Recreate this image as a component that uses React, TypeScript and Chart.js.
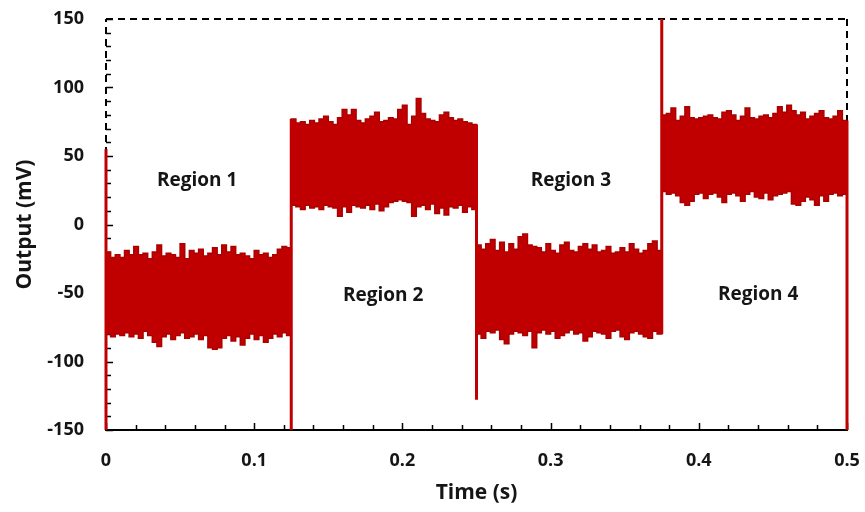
import React, { useEffect, useRef } from 'react';
import { Chart, registerables } from 'chart.js';

Chart.register(...registerables);

// ---- data ----
const REGION_BOUNDS = [0, 0.125, 0.25, 0.375, 0.5];
const X_TICK_STEP = 0.1;
const Y_TICK_STEP = 50;
const X_MIN = 0;
const X_MAX = 0.5;
const Y_MIN = -150;
const Y_MAX = 150;

// Upper / lower envelopes of the noisy trace, 40 samples per region
const R1_TOP = [-20, -24, -22, -24, -19, -22, -16, -22, -21, -25, -20, -15, -23, -21, -22, -24, -14, -25, -19, -21, -18, -23, -21, -17, -22, -15, -20, -16, -22, -21, -23, -25, -19, -22, -21, -24, -22, -18, -16, -17];
const R1_BOT = [-80, -82, -80, -81, -79, -82, -80, -83, -78, -81, -86, -89, -82, -80, -84, -81, -79, -83, -82, -80, -84, -81, -90, -91, -90, -83, -81, -85, -82, -88, -83, -80, -84, -81, -86, -83, -80, -82, -79, -81];
const R2_TOP = [77, 74, 75, 73, 76, 74, 77, 79, 75, 73, 78, 84, 80, 84, 76, 74, 77, 79, 82, 75, 76, 78, 77, 84, 87, 73, 79, 92, 81, 77, 76, 75, 80, 82, 78, 76, 77, 75, 74, 73];
const R2_BOT = [14, 13, 11, 14, 12, 13, 11, 14, 13, 12, 6, 13, 9, 14, 13, 12, 14, 11, 15, 10, 13, 16, 17, 18, 17, 16, 6, 13, 14, 11, 15, 8, 12, 7, 13, 12, 14, 9, 13, 11];
const R3_TOP = [-15, -18, -14, -11, -19, -13, -20, -14, -18, -9, -7, -15, -16, -17, -20, -14, -19, -21, -15, -13, -19, -20, -16, -14, -18, -15, -20, -19, -16, -21, -20, -17, -20, -14, -18, -21, -19, -14, -12, -19];
const R3_BOT = [-80, -83, -78, -79, -77, -84, -87, -80, -78, -79, -81, -78, -90, -79, -77, -80, -78, -83, -81, -79, -77, -80, -79, -85, -82, -78, -79, -80, -83, -78, -77, -82, -84, -79, -78, -80, -82, -83, -78, -80];
const R4_TOP = [80, 81, 85, 76, 79, 86, 78, 77, 78, 79, 80, 78, 77, 82, 83, 80, 76, 79, 85, 78, 77, 79, 80, 78, 81, 86, 82, 87, 83, 80, 82, 77, 79, 81, 83, 78, 77, 79, 83, 76];
const R4_BOT = [24, 22, 23, 21, 16, 14, 17, 22, 23, 19, 22, 23, 20, 16, 22, 23, 21, 17, 22, 24, 20, 19, 23, 18, 21, 22, 23, 24, 15, 14, 17, 20, 18, 14, 21, 17, 22, 23, 21, 22];

// Transient spikes at the switching instants: [time, from, to]
const SPIKE_TIMES = [0, 0.125, 0.25, 0.375, 0.5];
const SPIKE_FROM = [55, -150, 73, -80, 76];
const SPIKE_TO = [-150, 77, -128, 150, -150];

const REGION_LABELS = ['Region 1', 'Region 2', 'Region 3', 'Region 4'];
const REGION_LABEL_X = [0.0615, 0.187, 0.3137, 0.44];
const REGION_LABEL_Y = [32, -52, 32, -51];

const X_TITLE = 'Time (s)';
const Y_TITLE = 'Output (mV)';

// ---- styling ----
const RED = 'rgb(192,0,0)';
const RED_EDGE = 'rgb(170,0,0)';
const TEXT = '#151515';
const FONT = "'Open Sans', 'DejaVu Sans', sans-serif";

function buildBand(regions: number[][]) {
  const pts: { x: number; y: number }[] = [];
  regions.forEach((vals, r) => {
    const start = REGION_BOUNDS[r];
    const step = (REGION_BOUNDS[r + 1] - start) / vals.length;
    vals.forEach((v, i) => pts.push({ x: start + i * step, y: v }));
  });
  const last = regions[regions.length - 1];
  pts.push({ x: REGION_BOUNDS[REGION_BOUNDS.length - 1], y: last[last.length - 1] });
  return pts;
}

function buildSpikes() {
  const pts: any[] = [];
  SPIKE_TIMES.forEach((t, i) => {
    pts.push({ x: t, y: SPIKE_FROM[i] });
    pts.push({ x: t, y: SPIKE_TO[i] });
    pts.push({ x: t, y: null });
  });
  return pts;
}

const framePlugin = {
  id: 'frame',
  beforeDatasetsDraw(chart: any) {
    const { ctx, chartArea: a, scales } = chart;
    const xs = scales.x;
    const ys = scales.y;
    ctx.save();
    ctx.strokeStyle = '#000';
    ctx.lineWidth = 2;
    // dashed top, right, left
    ctx.setLineDash([7, 5]);
    ctx.beginPath();
    ctx.moveTo(a.left, a.top);
    ctx.lineTo(a.right, a.top);
    ctx.moveTo(a.right, a.top);
    ctx.lineTo(a.right, a.bottom);
    ctx.moveTo(a.left, a.bottom);
    ctx.lineTo(a.left, a.top);
    ctx.stroke();
    // solid bottom axis
    ctx.setLineDash([]);
    ctx.beginPath();
    ctx.moveTo(a.left - 1, a.bottom);
    ctx.lineTo(a.right + 1, a.bottom);
    ctx.stroke();
    // inward ticks
    ctx.lineWidth = 1.5;
    ctx.beginPath();
    for (let v = Y_MIN; v <= Y_MAX + 1e-9; v += Y_TICK_STEP / 5) {
      const major = Math.abs(v / Y_TICK_STEP - Math.round(v / Y_TICK_STEP)) < 1e-6;
      const py = Math.round(ys.getPixelForValue(v)) + 0.5;
      ctx.moveTo(a.left, py);
      ctx.lineTo(a.left + (major ? 7 : 5), py);
    }
    for (let k = 0; k <= Math.round((X_MAX - X_MIN) / (X_TICK_STEP / 5)); k++) {
      const v = X_MIN + k * (X_TICK_STEP / 5);
      const major = k % 5 === 0;
      const px = Math.round(xs.getPixelForValue(v)) + 0.5;
      ctx.moveTo(px, a.bottom);
      ctx.lineTo(px, a.bottom - (major ? 7 : 5));
    }
    ctx.stroke();
    ctx.restore();
  },
  afterDatasetsDraw(chart: any) {
    const { ctx, scales } = chart;
    ctx.save();
    ctx.fillStyle = TEXT;
    ctx.font = `bold 19px ${FONT}`;
    ctx.textAlign = 'center';
    ctx.textBaseline = 'middle';
    REGION_LABELS.forEach((lab, i) => {
      ctx.fillText(lab, scales.x.getPixelForValue(REGION_LABEL_X[i]), scales.y.getPixelForValue(REGION_LABEL_Y[i]));
    });
    ctx.restore();
  },
};

function fixBox(s: any, w: number | null, h: number | null) {
  if (w !== null) s.width = w;
  if (h !== null) s.height = h;
  s.paddingTop = 0;
  s.paddingBottom = 0;
  s.paddingLeft = 0;
  s.paddingRight = 0;
}

export default function App() {
  const ref = useRef<HTMLCanvasElement>(null);
  useEffect(() => {
    document.body.style.margin = '0';
    const upper = buildBand([R1_TOP, R2_TOP, R3_TOP, R4_TOP]);
    const lower = buildBand([R1_BOT, R2_BOT, R3_BOT, R4_BOT]);
    const chart = new Chart(ref.current as HTMLCanvasElement, {
      type: 'line',
      data: {
        datasets: [
          {
            label: 'spikes',
            data: buildSpikes(),
            borderColor: RED,
            borderWidth: 3,
            pointRadius: 0,
            spanGaps: false,
            fill: false,
            clip: false,
          },
          {
            label: 'lower',
            data: lower,
            stepped: true,
            borderColor: RED_EDGE,
            borderWidth: 1.5,
            pointRadius: 0,
            fill: false,
          },
          {
            label: 'upper',
            data: upper,
            stepped: true,
            borderColor: RED_EDGE,
            borderWidth: 1.5,
            pointRadius: 0,
            backgroundColor: RED,
            fill: 1,
          },
        ],
      } as any,
      options: {
        responsive: false,
        animation: false,
        parsing: false as any,
        normalized: true,
        layout: { padding: { top: 19, right: 18, left: 0, bottom: 0 } },
        plugins: { legend: { display: false }, tooltip: { enabled: false } },
        scales: {
          x: {
            type: 'linear',
            min: X_MIN,
            max: X_MAX,
            grid: { display: false, drawTicks: false },
            border: { display: false },
            ticks: {
              stepSize: X_TICK_STEP,
              padding: 20,
              color: TEXT,
              font: { family: FONT, size: 18, weight: 'bold' },
              callback: (v: any) => (Number(v) === 0 ? '0' : Number(v).toFixed(1)),
            },
            title: {
              display: true,
              text: X_TITLE,
              color: TEXT,
              font: { family: FONT, size: 21, weight: 'bold' },
              padding: { top: 0, bottom: 6 },
            },
            afterFit: (s: any) => fixBox(s, null, 82),
          },
          y: {
            type: 'linear',
            min: Y_MIN,
            max: Y_MAX,
            grid: { display: false, drawTicks: false },
            border: { display: false },
            ticks: {
              stepSize: Y_TICK_STEP,
              padding: 22,
              color: TEXT,
              font: { family: FONT, size: 18, weight: 'bold' },
              callback: (v: any) => String(Math.round(Number(v))),
            },
            title: {
              display: true,
              text: Y_TITLE,
              color: TEXT,
              font: { family: FONT, size: 21, weight: 'bold' },
              padding: { top: 12, bottom: 0 },
            },
            afterFit: (s: any) => fixBox(s, 106, null),
          },
        },
      } as any,
      plugins: [framePlugin],
    });
    return () => chart.destroy();
  }, []);
  return (
    <div style={{ width: 865, height: 512, background: '#fff' }}>
      <canvas ref={ref} width={865} height={512} style={{ display: 'block' }} />
    </div>
  );
}
